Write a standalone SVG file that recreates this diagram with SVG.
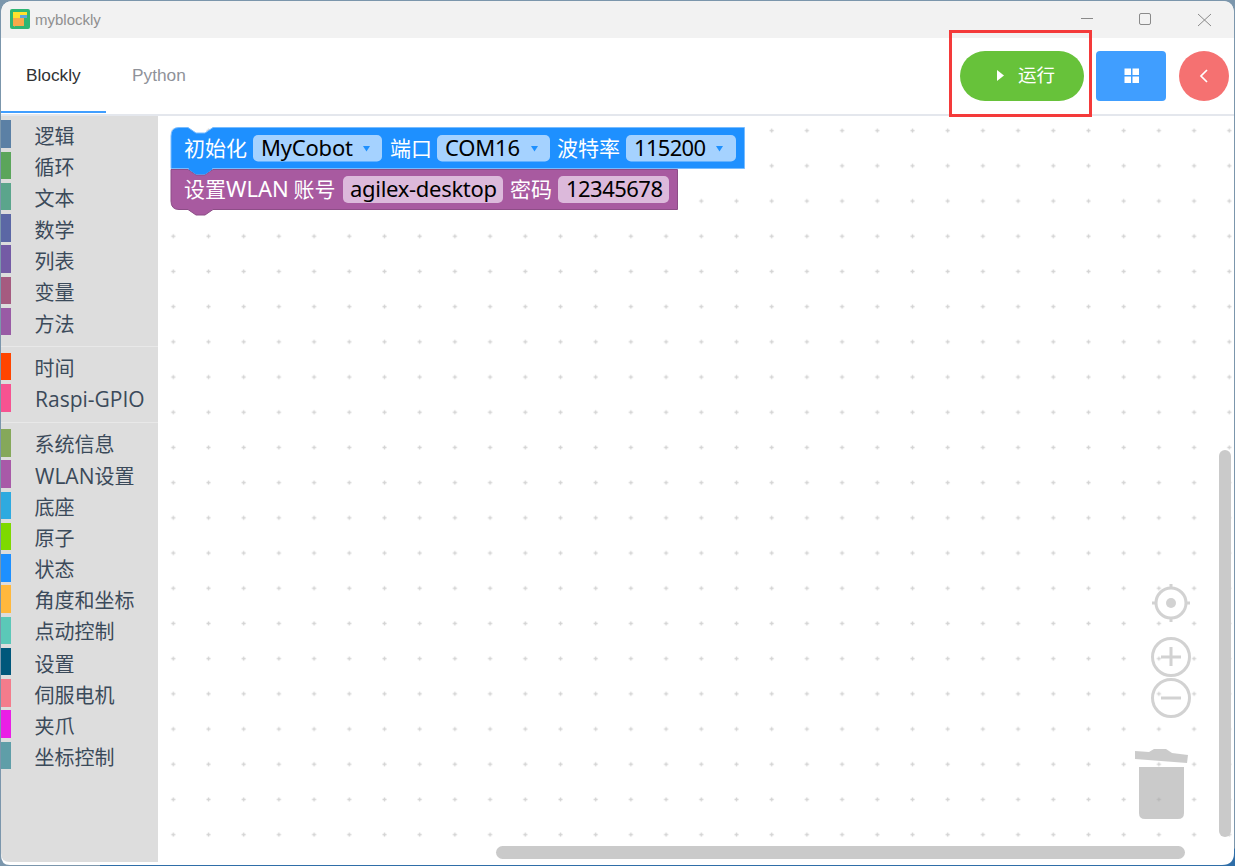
<svg xmlns="http://www.w3.org/2000/svg" width="1235" height="866" viewBox="0 0 1235 866">
<style>
text{font-family:"Liberation Sans","Noto Sans CJK SC",sans-serif}
.cat{font-size:20px;fill:#3b4a5a;font-family:"Noto Sans CJK SC",sans-serif}
.lat{font-size:21px;font-family:"Open Sans",sans-serif}
.bl{font-size:21px;fill:#fff;font-family:"Noto Sans CJK SC",sans-serif}
.fld{font-size:22px;fill:#000;font-family:"Noto Sans","Noto Sans CJK SC",sans-serif}
.ic{fill:none;stroke:#d2d2d2;stroke-width:3}
</style>
<defs>
<pattern id="grid" x="170.800" y="128.200" width="35.200" height="35.200" patternUnits="userSpaceOnUse">
<path d="M.5 2.500h4M2.500 .5v4" stroke="#d4d4d4" stroke-width="1.400" fill="none"/>
</pattern>
</defs>
<rect width="1235" height="866" fill="#7b96ac"/>
<rect x="100" y="864" width="1135" height="2" fill="#2f6ea8"/>
<path d="M1222 866H1235V848Z" fill="#2f6ea8"/>
<path id="window" d="M1 14Q1 1 14 1H1222Q1234 1 1234 14V853Q1234 865 1222 865H10Q1 865 1 855Z" fill="#fff"/>
<path id="titlebar" d="M1 38V14Q1 1 14 1H1222Q1234 1 1234 14V38Z" fill="#f2f2f2"/>
<g id="app-icon">
<rect x="10" y="9" width="20" height="20" rx="2" fill="#2fb673"/>
<path d="M13 12H27V18H23V25H15V24H13Z" fill="#ffe22e"/>
<path d="M13 18H24V26H15L14.500 27L14 26H13Z" fill="#f7a94a"/>
<rect x="20" y="15" width="7" height="3" fill="#5aa8dc"/>
</g>
<text x="35" y="25" font-size="15" fill="#8f8f8f">myblockly</text>
<g id="window-controls" fill="none" stroke="#8a8a8a" stroke-width="1">
<path d="M1081 18.500H1093"/>
<rect x="1139.500" y="13.500" width="11" height="11" rx="1.500"/>
<path d="M1198 14L1211 26M1211 14L1198 26"/>
</g>
<g id="tabs">
<text x="26" y="81" font-size="17.300" fill="#303133">Blockly</text>
<text x="132" y="81" font-size="17.300" fill="#8f9299">Python</text>
<rect x="1" y="111" width="105" height="2" fill="#409eff"/>
<rect x="1" y="114" width="1233" height="2" fill="#e4e7ed"/>
</g>
<g id="btn-run">
<rect x="960" y="51" width="124" height="50" rx="25" fill="#67c23a"/>
<path d="M997 70L1004 75.500L997 81Z" fill="#fff"/>
<text x="1018" y="82" font-size="18.500" fill="#fff" style="font-family:'Noto Sans CJK SC',sans-serif">运行</text>
</g>
<g id="btn-grid">
<rect x="1096" y="51" width="70" height="50" rx="4" fill="#409eff"/>
<path d="M1124.500 68.500h6.500v6.500h-6.500zM1132.500 68.500h6.500v6.500h-6.500zM1124.500 76.500h6.500v6.500h-6.500zM1132.500 76.500h6.500v6.500h-6.500z" fill="#fff"/>
</g>
<g id="btn-back">
<circle cx="1204" cy="76" r="25" fill="#f56c6c" opacity=".97"/>
<path d="M1207 70L1201 76L1207 82" fill="none" stroke="#fff" stroke-width="1.700"/>
</g>
<rect id="highlight" x="950.500" y="31.500" width="140" height="84" fill="none" stroke="#f43a3a" stroke-width="3"/>
<path id="toolbox" d="M1 116H158V862H10Q1 862 1 853Z" fill="#dddddd"/>
<rect id="workspace" x="158" y="116" width="1076" height="745" fill="url(#grid)"/>
<g id="toolbox-sep" fill="#e8e8e8">
<rect x="1" y="346" width="157" height="1"/>
<rect x="1" y="422" width="157" height="1"/>
</g>
<g id="categories">
<rect x="1" y="120" width="10" height="28" fill="#5b80a5"/><text class="cat" x="34.500" y="144">逻辑</text>
<rect x="1" y="152" width="10" height="27" fill="#5ba55b"/><text class="cat" x="34.500" y="175">循环</text>
<rect x="1" y="183" width="10" height="27" fill="#5ba58c"/><text class="cat" x="34.500" y="206">文本</text>
<rect x="1" y="214" width="10" height="28" fill="#5b67a5"/><text class="cat" x="34.500" y="238">数学</text>
<rect x="1" y="245" width="10" height="28" fill="#745ba5"/><text class="cat" x="34.500" y="269">列表</text>
<rect x="1" y="277" width="10" height="27" fill="#a55b80"/><text class="cat" x="34.500" y="300">变量</text>
<rect x="1" y="308" width="10" height="27" fill="#995ba5"/><text class="cat" x="34.500" y="332">方法</text>
<rect x="1" y="353" width="10" height="27" fill="#ff4500"/><text class="cat" x="34.500" y="376">时间</text>
<rect x="1" y="384" width="10" height="28" fill="#f75391"/><text class="cat lat" x="35" y="407">Raspi-GPIO</text>
<rect x="1" y="429" width="10" height="28" fill="#85a85a"/><text class="cat" x="34.500" y="452">系统信息</text>
<rect x="1" y="460" width="10" height="28" fill="#a85aa8"/><text class="cat" x="35" y="484"><tspan class="lat">WLAN</tspan>设置</text>
<rect x="1" y="492" width="10" height="27" fill="#2eaae0"/><text class="cat" x="34.500" y="515">底座</text>
<rect x="1" y="523" width="10" height="27" fill="#7ed900"/><text class="cat" x="34.500" y="546">原子</text>
<rect x="1" y="554" width="10" height="28" fill="#1e90ff"/><text class="cat" x="34.500" y="577">状态</text>
<rect x="1" y="585" width="10" height="28" fill="#ffb83d"/><text class="cat" x="34.500" y="608">角度和坐标</text>
<rect x="1" y="617" width="10" height="27" fill="#5bc8b8"/><text class="cat" x="34.500" y="639">点动控制</text>
<rect x="1" y="648" width="10" height="27" fill="#00577b"/><text class="cat" x="34.500" y="672">设置</text>
<rect x="1" y="679" width="10" height="28" fill="#f47c8c"/><text class="cat" x="34.500" y="703">伺服电机</text>
<rect x="1" y="710" width="10" height="28" fill="#ea1ee6"/><text class="cat" x="34.500" y="734">夹爪</text>
<rect x="1" y="742" width="10" height="27" fill="#5f9ea8"/><text class="cat" x="34.500" y="765">坐标控制</text>
</g>
<g id="block-init">
<path d="M179 127.500H188L196 133H205L213 127.500H744.500V168.500H213L205 174H196L188 168.500H171V136Q171 127.500 179 127.500Z" fill="#1e90ff" stroke="#78bcff" stroke-width="1"/>
<text class="bl" x="184" y="156">初始化</text>
<rect x="253" y="135" width="129" height="26.500" rx="5" fill="#a5d2ff"/>
<text class="fld" x="261" y="156" textLength="92">MyCobot</text>
<path d="M363 146H370L366.500 151.500Z" fill="#1e90ff"/>
<text class="bl" x="390" y="156">端口</text>
<rect x="437" y="135" width="113" height="26.500" rx="5" fill="#a5d2ff"/>
<text class="fld" x="445" y="156" textLength="75">COM16</text>
<path d="M531 146H538L534.500 151.500Z" fill="#1e90ff"/>
<text class="bl" x="557" y="156">波特率</text>
<rect x="626" y="135" width="110" height="26.500" rx="5" fill="#a5d2ff"/>
<text class="fld" x="634" y="156" textLength="72">115200</text>
<path d="M716 146H723L719.500 151.500Z" fill="#1e90ff"/>
</g>
<g id="block-wlan">
<path d="M171 169.500H188L196 175H205L213 169.500H677.500V209.500H213L205 215H196L188 209.500H179Q171 209.500 171 201Z" fill="#a85aa0" stroke="#8d4d87" stroke-width="1"/>
<path d="M188 169H213L205 174.500H196Z" fill="#1e90ff"/>
<text class="bl" x="184" y="197">设置<tspan font-size="22" font-family="Noto Sans">WLAN</tspan> 账号</text>
<rect x="343" y="176" width="160" height="27" rx="5" fill="#dcb9db"/>
<text class="fld" x="350" y="197" textLength="147">agilex-desktop</text>
<text class="bl" x="510" y="197">密码</text>
<rect x="558" y="176" width="111" height="27" rx="5" fill="#dcb9db"/>
<text class="fld" x="566" y="197" textLength="97">12345678</text>
</g>
<g id="scrollbars" fill="#cacaca">
<rect x="1219" y="450" width="12" height="387" rx="6"/>
<rect x="496" y="846" width="689" height="13" rx="6.500"/>
</g>
<g id="workspace-controls">
<circle class="ic" cx="1171" cy="603" r="15"/>
<circle cx="1171" cy="603" r="5" fill="#d2d2d2"/>
<path class="ic" d="M1171 584v5M1171 617v5M1152 603h5M1185 603h5"/>
<circle class="ic" cx="1171" cy="657" r="18.500"/>
<path class="ic" d="M1171 647v19M1161 657h20" stroke-width="2"/>
<circle class="ic" cx="1171" cy="698" r="18.500"/>
<path class="ic" d="M1161 698h20" stroke-width="2"/>
</g>
<g id="trash" fill="#a8a8a8" opacity=".6">
<path d="M1135 751L1149 752L1154 749H1166L1172 753L1188 755L1187 763L1135 759Z"/>
<path d="M1139 767H1184V813Q1184 819 1178 819H1145Q1139 819 1139 813Z"/>
</g>
</svg>
